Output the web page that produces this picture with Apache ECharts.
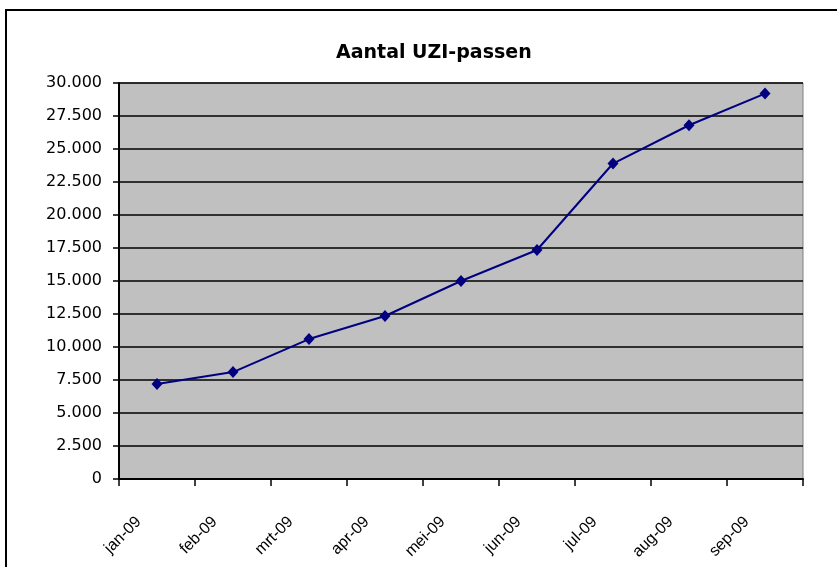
<!DOCTYPE html>
<html>
<head>
<meta charset="utf-8">
<script src="https://cdn.jsdelivr.net/npm/echarts@6/dist/echarts.min.js"></script>
<style>
  html, body { margin: 0; padding: 0; background: #fff; }
  #chart { width: 837px; height: 567px; }
</style>
</head>
<body>
<div id="chart"></div>
<script>
// maanden en aantallen
var maanden = ["jan-09", "feb-09", "mrt-09", "apr-09", "mei-09", "jun-09", "jul-09", "aug-09", "sep-09"];
var aantallen = [7200, 8100, 10600, 12350, 15000, 17350, 23900, 26800, 29200];
var titel = "Aantal UZI-passen";

// 30000 -> "30.000"
function nlGetal(v) {
  return String(v).replace(/\B(?=(\d{3})+(?!\d))/g, ".");
}

var chart = echarts.init(document.getElementById("chart"));

var option = {
  animation: false,
  title: {
    text: titel,
    left: 331,
    top: 39,
    textStyle: {
      fontFamily: "DejaVu Sans",
      fontWeight: "bold",
      fontSize: 19,
      color: "#000"
    }
  },
  graphic: [
    {
      type: "rect",
      shape: { x: 6, y: 10, width: 900, height: 620 },
      style: { fill: null, stroke: "#000", lineWidth: 2 },
      silent: true
    }
  ],
  grid: {
    left: 119,
    top: 83,
    right: 34,
    bottom: 88,
    show: true,
    backgroundColor: "#c0c0c0",
    borderColor: "#808080",
    borderWidth: 1
  },
  xAxis: {
    type: "category",
    data: maanden,
    boundaryGap: true,
    axisLine: { lineStyle: { color: "#000", width: 2 } },
    axisTick: { show: true, length: 7, lineStyle: { color: "#000", width: 1.5 } },
    axisLabel: {
      rotate: 45,
      interval: 0,
      margin: 22,
      padding: [0, 26, 0, 0],
      fontFamily: "Liberation Sans",
      fontSize: 16,
      color: "#000"
    },
    splitLine: { show: false }
  },
  yAxis: {
    type: "value",
    min: 0,
    max: 30000,
    interval: 2500,
    axisLine: { show: true, lineStyle: { color: "#000", width: 2 } },
    axisTick: { show: true, length: 6, lineStyle: { color: "#000", width: 1.5 } },
    axisLabel: {
      margin: 17,
      formatter: nlGetal,
      fontFamily: "DejaVu Sans",
      fontSize: 16,
      color: "#000"
    },
    splitLine: { show: true, lineStyle: { color: "#000", width: 1.5 } }
  },
  series: [
    {
      name: titel,
      type: "line",
      data: aantallen,
      symbol: "diamond",
      symbolSize: [11, 12],
      lineStyle: { color: "#000080", width: 2 },
      itemStyle: { color: "#000080" }
    }
  ]
};

chart.setOption(option);
</script>
</body>
</html>
